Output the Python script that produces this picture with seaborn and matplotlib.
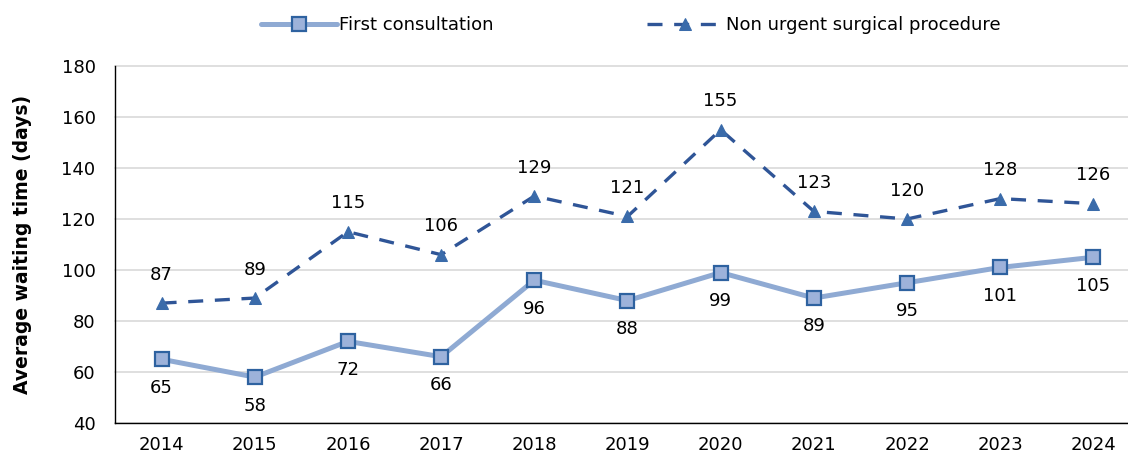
import matplotlib
matplotlib.use("Agg")
import matplotlib.pyplot as plt
import seaborn as sns
import pandas as pd

years = [2014, 2015, 2016, 2017, 2018, 2019, 2020, 2021, 2022, 2023, 2024]
first_consultation = [65, 58, 72, 66, 96, 88, 99, 89, 95, 101, 105]
surgical_procedure = [87, 89, 115, 106, 129, 121, 155, 123, 120, 128, 126]
series_names = ["First consultation", "Non urgent surgical procedure"]
y_ticks = [40, 60, 80, 100, 120, 140, 160, 180]

sns.set_theme(style="white")
plt.rcParams["font.family"] = ["DejaVu Sans"]
plt.rcParams["text.color"] = "black"
plt.rcParams["xtick.color"] = "black"
plt.rcParams["ytick.color"] = "black"
plt.rcParams["axes.labelcolor"] = "black"

df1 = pd.DataFrame({"Year": years, "Days": first_consultation})
df2 = pd.DataFrame({"Year": years, "Days": surgical_procedure})

fig = plt.figure(figsize=(11.28, 4.55), dpi=100)
# axes span slightly past the right edge of the figure
ax = fig.add_axes([115 / 1128, 32 / 455, 1025 / 1128, 357 / 455])

sns.lineplot(data=df1, x="Year", y="Days", ax=ax, color="#8FAAD3", linewidth=3.6,
             marker="s", markersize=10, markerfacecolor="#9DB2DA",
             markeredgecolor="#2E62A0", markeredgewidth=1.6,
             label=series_names[0], zorder=3)
sns.lineplot(data=df2, x="Year", y="Days", ax=ax, color="#2F5597", linewidth=2.4,
             marker="^", markersize=9, markerfacecolor="#3A6BAA",
             markeredgecolor="#3A6BAA", linestyle="--",
             label=series_names[1], zorder=3)
ax.lines[1].set_dashes((4.5, 3.5))

for x, v in zip(years, first_consultation):
    ax.annotate(str(v), (x, v), xytext=(0, -14), textcoords="offset points",
                ha="center", va="top", fontsize=13, color="black")
for x, v in zip(years, surgical_procedure):
    ax.annotate(str(v), (x, v), xytext=(0, 14), textcoords="offset points",
                ha="center", va="bottom", fontsize=13, color="black")

ax.set_xlim(years[0] - 0.5, years[-1] + 0.5)
ax.set_ylim(40, 180)
ax.set_xticks(years)
ax.set_xticklabels([str(y) for y in years], fontsize=13)
ax.set_yticks(y_ticks)
ax.set_yticklabels([str(t) for t in y_ticks], fontsize=13)
ax.set_xlabel("")
ax.set_ylabel("Average waiting time (days)", fontsize=13.5, fontweight="bold", labelpad=21)
ax.yaxis.grid(True, color="#D9D9D9", linewidth=1.2)
for gl in ax.yaxis.get_gridlines():
    gl.set_clip_on(False)
ax.set_axisbelow(True)
for s in ["top", "right"]:
    ax.spines[s].set_visible(False)
for s in ["left", "bottom"]:
    ax.spines[s].set_color("black")
    ax.spines[s].set_linewidth(1.0)
ax.tick_params(axis="y", length=0, pad=14)
ax.tick_params(axis="x", length=0, pad=9)

handles, labels = ax.get_legend_handles_labels()
ax.legend_.remove()
fig.legend(handles, labels, loc="upper center", bbox_to_anchor=(0.559, 1.0), ncol=2,
           frameon=False, fontsize=13, columnspacing=8.5, handlelength=4.2, handletextpad=0.15)

fig.savefig("out.png", dpi=100)
